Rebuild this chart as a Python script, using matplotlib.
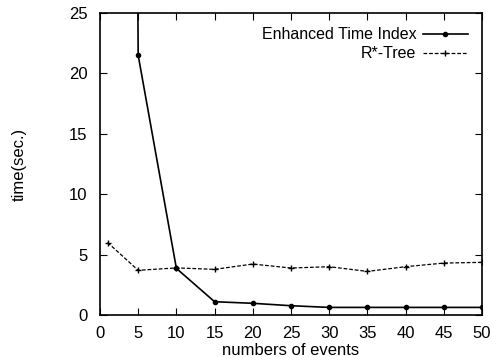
import matplotlib
matplotlib.use('Agg')
from matplotlib import pyplot as plt

plt.rcParams['font.family'] = ['Liberation Sans', 'DejaVu Sans']

# data
x_eti = [1, 5, 10, 15, 20, 25, 30, 35, 40, 45, 50]
y_eti = [400, 21.5, 3.86, 1.1, 0.97, 0.77, 0.63, 0.63, 0.63, 0.63, 0.63]
x_rtree = [1, 5, 10, 15, 20, 25, 30, 35, 40, 45, 50]
y_rtree = [6.0, 3.7, 3.9, 3.78, 4.22, 3.89, 4.0, 3.61, 4.0, 4.3, 4.36]
x_ticks = [0, 5, 10, 15, 20, 25, 30, 35, 40, 45, 50]
y_ticks = [0, 5, 10, 15, 20, 25]

fig = plt.figure(figsize=(4.93, 3.57), dpi=100)
ax = fig.add_axes([0.2028, 0.1176, 0.9777 - 0.2028, 0.9636 - 0.1176])

ax.plot(x_eti, y_eti, color='black', linewidth=1.2, marker='o', markersize=3,
        label='Enhanced Time Index')
ax.plot(x_rtree, y_rtree, color='black', linewidth=0.9, linestyle=(0, (3, 1.5)),
        marker='+', markersize=5, markeredgewidth=1.0, label='R*-Tree')

ax.set_xlim(0, 50)
ax.set_ylim(0, 25)
ax.set_xticks(x_ticks)
ax.set_yticks(y_ticks)
ax.tick_params(direction='in', top=True, right=True, labelsize=12, length=5)
ax.tick_params(axis='x', pad=8)
ax.tick_params(axis='y', pad=9)
for s in ax.spines.values():
    s.set_linewidth(1.2)

ax.set_xlabel('numbers of events', fontsize=12, labelpad=1)
ax.set_ylabel('time(sec.)', fontsize=12, labelpad=30)

ax.legend(loc='upper right', frameon=False, markerfirst=False, fontsize=11.5,
          handlelength=2.8, labelspacing=0.25, borderaxespad=0.5, handletextpad=0.4)

fig.savefig('out.png', dpi=100)
